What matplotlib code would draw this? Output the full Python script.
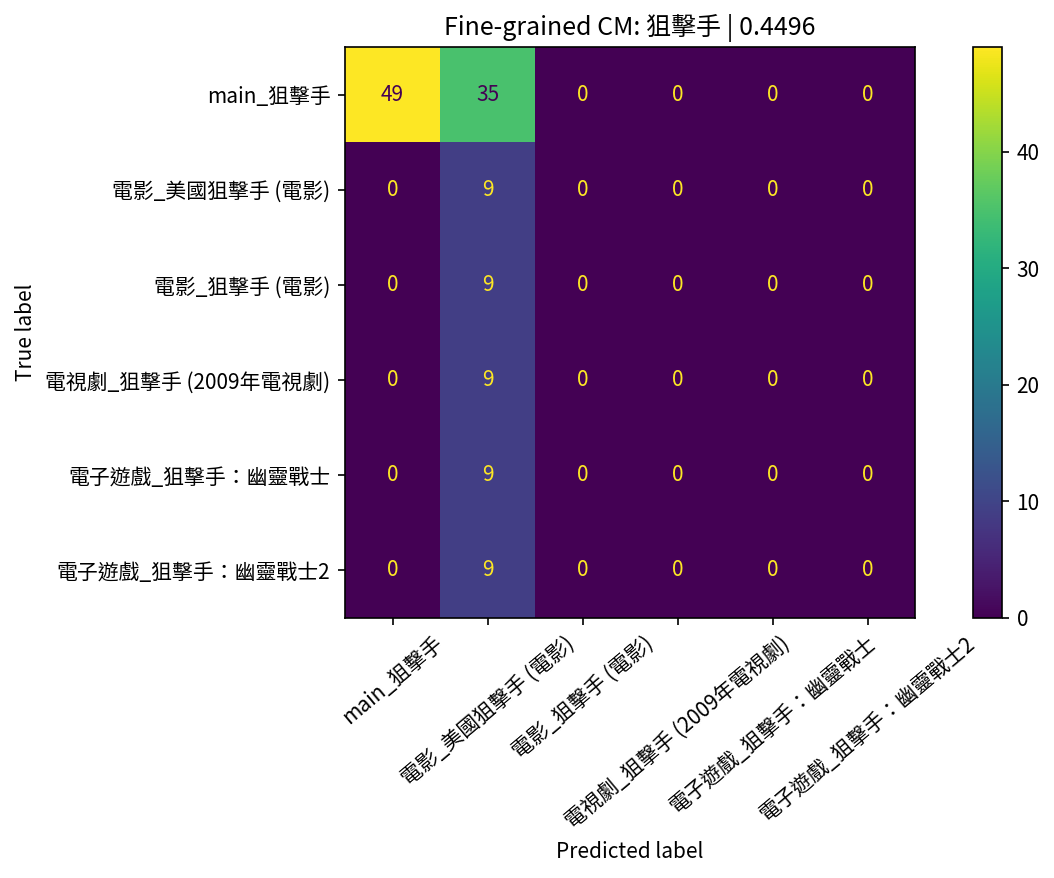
import matplotlib
matplotlib.use("Agg")
import matplotlib.pyplot as plt
import numpy as np

plt.rcParams['font.family'] = ['Noto Sans CJK TC', 'DejaVu Sans']

labels = ["main_狙擊手", "電影_美國狙擊手 (電影)", "電影_狙擊手 (電影)",
          "電視劇_狙擊手 (2009年電視劇)", "電子遊戲_狙擊手：幽靈戰士", "電子遊戲_狙擊手：幽靈戰士2"]
row0 = [49, 35, 0, 0, 0, 0]
row1 = [0, 9, 0, 0, 0, 0]
row2 = [0, 9, 0, 0, 0, 0]
row3 = [0, 9, 0, 0, 0, 0]
row4 = [0, 9, 0, 0, 0, 0]
row5 = [0, 9, 0, 0, 0, 0]
cm = np.array([row0, row1, row2, row3, row4, row5])

W, H = 1054, 878
fig = plt.figure(figsize=(W/150, H/150), dpi=150)
ax = fig.add_axes([345/W, 1-618/H, (915-345)/W, (618-47)/H])
cax = fig.add_axes([973/W, 1-618/H, (1002-973)/W, (618-47)/H])

cmap = plt.get_cmap('viridis')
im = ax.imshow(cm, cmap=cmap, aspect='auto', interpolation='nearest')
fig.colorbar(im, cax=cax)

thresh = (cm.max() + cm.min()) / 2.0
for i in range(cm.shape[0]):
    for j in range(cm.shape[1]):
        color = cmap(0.0) if cm[i, j] > thresh else cmap(1.0)
        ax.text(j, i, str(cm[i, j]), ha='center', va='center', color=color, fontsize=10)

ax.set_xticks(range(len(labels)))
ax.set_yticks(range(len(labels)))
ax.set_xticklabels(labels, rotation=40)
ax.set_yticklabels(labels)
ax.set_xlabel('Predicted label')
ax.set_ylabel('True label')
ax.set_title('Fine-grained CM: 狙擊手 | 0.4496')

fig.savefig('out.png', dpi=150)
